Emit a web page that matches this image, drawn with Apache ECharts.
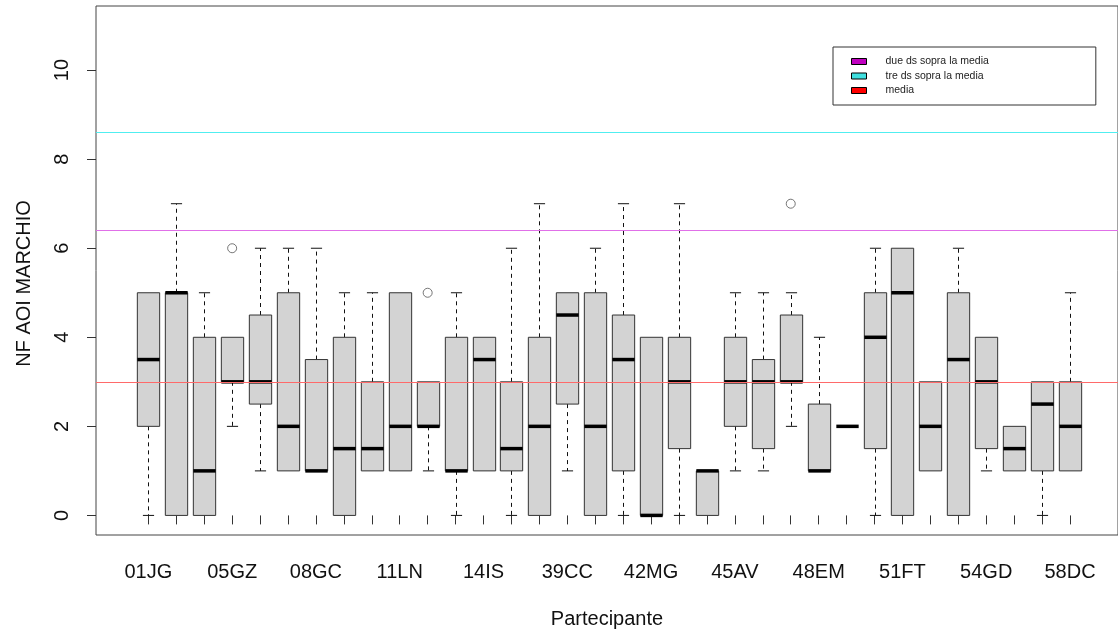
<!DOCTYPE html>
<html><head><meta charset="utf-8">
<script src="https://cdn.jsdelivr.net/npm/echarts@6/dist/echarts.min.js"></script>
<style>html,body{margin:0;padding:0;background:#fff}#c{width:1118px;height:635px}</style>
</head><body><div id="c"></div>
<script>
// Participants (only every third label is printed in the original plot)
const participants = ['01JG','','','05GZ','','','08GC','','','11LN','','','14IS','','','39CC','','','42MG','','','45AV','','','48EM','','','51FT','','','54GD','','','58DC'];
const whiskerLow  = [0,0,0,2,1,1,1,0,1,1,1,0,1,0,0,1,0,0,0,0,0,1,1,2,1,2,0,0,1,0,1,1,0,1];
const q1Values    = [2,0,0,3,2.5,1,1,0,1,1,2,1,1,1,0,2.5,0,1,0,1.5,0,2,1.5,3,1,2,1.5,0,1,0,1.5,1,1,1];
const medians     = [3.5,5,1,3,3,2,1,1.5,1.5,2,2,1,3.5,1.5,2,4.5,2,3.5,0,3,1,3,3,3,1,2,4,5,2,3.5,3,1.5,2.5,2];
const q3Values    = [5,5,4,4,4.5,5,3.5,4,3,5,3,4,4,3,4,5,5,4.5,4,4,1,4,3.5,4.5,2.5,2,5,6,3,5,4,2,3,3];
const whiskerHigh = [5,7,5,4,6,6,6,5,5,5,3,5,4,6,7,5,6,7,4,7,1,5,5,5,4,2,6,6,3,6,4,2,3,5];
const outlierIndex = [3,10,23];
const outlierValue = [6,5,7];
const yTicks = [0,2,4,6,8,10];
const refNames  = ['due ds sopra la media','tre ds sopra la media','media'];
const refValues = [6.4, 8.6, 3];
const refFill   = ['#c000c0','#40e0e0','#ff0000'];
const refLine   = ['#e070e8','#50eef0','#ff6a6a'];

const FONT = '"Liberation Sans", Arial, sans-serif';
const boxData = participants.map((p, i) => [i, whiskerLow[i], q1Values[i], medians[i], q3Values[i], whiskerHigh[i]]);
const outData = outlierIndex.map((ix, k) => [ix, outlierValue[k]]);

function renderBox(params, api) {
  const x = api.value(0);
  const lo = api.coord([x, api.value(1)]);
  const q1 = api.coord([x, api.value(2)]);
  const md = api.coord([x, api.value(3)]);
  const q3 = api.coord([x, api.value(4)]);
  const hi = api.coord([x, api.value(5)]);
  const band = api.size([1, 0])[0];
  const bw = band * 0.8, cw = band * 0.4;
  const cx = Math.round(lo[0]) + 0.5;
  const dash = {stroke: '#111', lineWidth: 1, lineDash: [4, 4], fill: null};
  const solid = {stroke: '#111', lineWidth: 1, fill: null};
  const ch = [];
  if (hi[1] < q3[1] - 0.5) {
    ch.push({type: 'line', shape: {x1: cx, y1: q3[1], x2: cx, y2: hi[1]}, style: dash});
    ch.push({type: 'line', shape: {x1: cx - cw / 2, y1: hi[1], x2: cx + cw / 2, y2: hi[1]}, style: solid});
  }
  if (lo[1] > q1[1] + 0.5) {
    ch.push({type: 'line', shape: {x1: cx, y1: q1[1], x2: cx, y2: lo[1]}, style: dash});
    ch.push({type: 'line', shape: {x1: cx - cw / 2, y1: lo[1], x2: cx + cw / 2, y2: lo[1]}, style: solid});
  }
  if (q1[1] - q3[1] > 0.5) {
    ch.push({type: 'rect', shape: {x: cx - bw / 2, y: q3[1], width: bw, height: q1[1] - q3[1]},
      style: {fill: '#d3d3d3', stroke: '#333', lineWidth: 1}});
  }
  ch.push({type: 'line', shape: {x1: cx - bw / 2, y1: md[1], x2: cx + bw / 2, y2: md[1]},
    style: {stroke: '#000', lineWidth: 3.5, fill: null}});
  return {type: 'group', children: ch};
}

const chart = echarts.init(document.getElementById('c'), null, {renderer: 'canvas'});
chart.setOption({
  animation: false,
  backgroundColor: '#fff',
  textStyle: {fontFamily: FONT},
  grid: [
    {left: 96, right: -6, top: 6, bottom: 100, show: true, borderColor: '#444', borderWidth: 1, backgroundColor: 'transparent', containLabel: false},
    {left: 134.4, right: 34, top: 6, bottom: 100, containLabel: false}
  ],
  xAxis: [
    {type: 'value', gridIndex: 0, min: 0, max: 1, axisLine: {show: false}, axisTick: {show: false}, axisLabel: {show: false}, splitLine: {show: false},
      name: 'Partecipante', nameLocation: 'middle', nameGap: 74, nameTextStyle: {fontSize: 20, color: '#111', fontFamily: FONT}},
    {type: 'category', gridIndex: 1, data: participants, boundaryGap: true,
      axisLine: {show: false},
      axisTick: {show: true, interval: 0, alignWithLabel: true, length: 9, lineStyle: {color: '#333', width: 1}},
      axisLabel: {interval: 2, fontSize: 20, color: '#111', margin: 27, fontFamily: FONT},
      splitLine: {show: false}}
  ],
  yAxis: [
    {type: 'value', gridIndex: 0, min: -0.44, max: 11.44,
      axisLine: {show: false},
      axisTick: {show: true, length: 9, customValues: yTicks, lineStyle: {color: '#333', width: 1}},
      axisLabel: {customValues: yTicks, rotate: 90, fontSize: 20, color: '#111', margin: 24, fontFamily: FONT},
      splitLine: {show: false},
      name: 'NF AOI MARCHIO', nameLocation: 'middle', nameGap: 62, nameRotate: 90,
      nameTextStyle: {fontSize: 20, color: '#111', fontFamily: FONT, padding: [0, 26, 0, 0]}},
    {type: 'value', gridIndex: 1, min: -0.44, max: 11.44, show: false, splitLine: {show: false}}
  ],
  legend: {
    left: 833, top: 47, orient: 'vertical', padding: [9, 107, 9, 18], itemGap: 3.5,
    itemWidth: 15, itemHeight: 6, icon: 'rect', selectedMode: false,
    borderColor: '#333', borderWidth: 1, backgroundColor: '#fff',
    itemStyle: {borderColor: '#000', borderWidth: 1},
    textStyle: {fontSize: 10.5, color: '#222', fontFamily: FONT, padding: [0, 0, 0, 14]},
    data: refNames
  },
  series: [
    {type: 'custom', name: 'box', xAxisIndex: 1, yAxisIndex: 1, renderItem: renderBox, data: boxData,
      encode: {x: 0, y: [1, 2, 3, 4, 5]}, z: 2, silent: true},
    {type: 'scatter', name: 'out', xAxisIndex: 1, yAxisIndex: 1, data: outData, symbol: 'circle', symbolSize: 9,
      itemStyle: {color: '#fff', borderColor: '#555', borderWidth: 1}, z: 3, silent: true},
    ...refNames.map((n, i) => ({
      type: 'line', name: n, xAxisIndex: 0, yAxisIndex: 0, data: [], symbol: 'none', z: 5,
      itemStyle: {color: refFill[i]}, lineStyle: {color: refFill[i]},
      markLine: {silent: true, symbol: ['none', 'none'], label: {show: false},
        lineStyle: {color: refLine[i], width: 1.2, type: 'solid'},
        data: [{yAxis: refValues[i]}]}
    }))
  ]
});
</script></body></html>
